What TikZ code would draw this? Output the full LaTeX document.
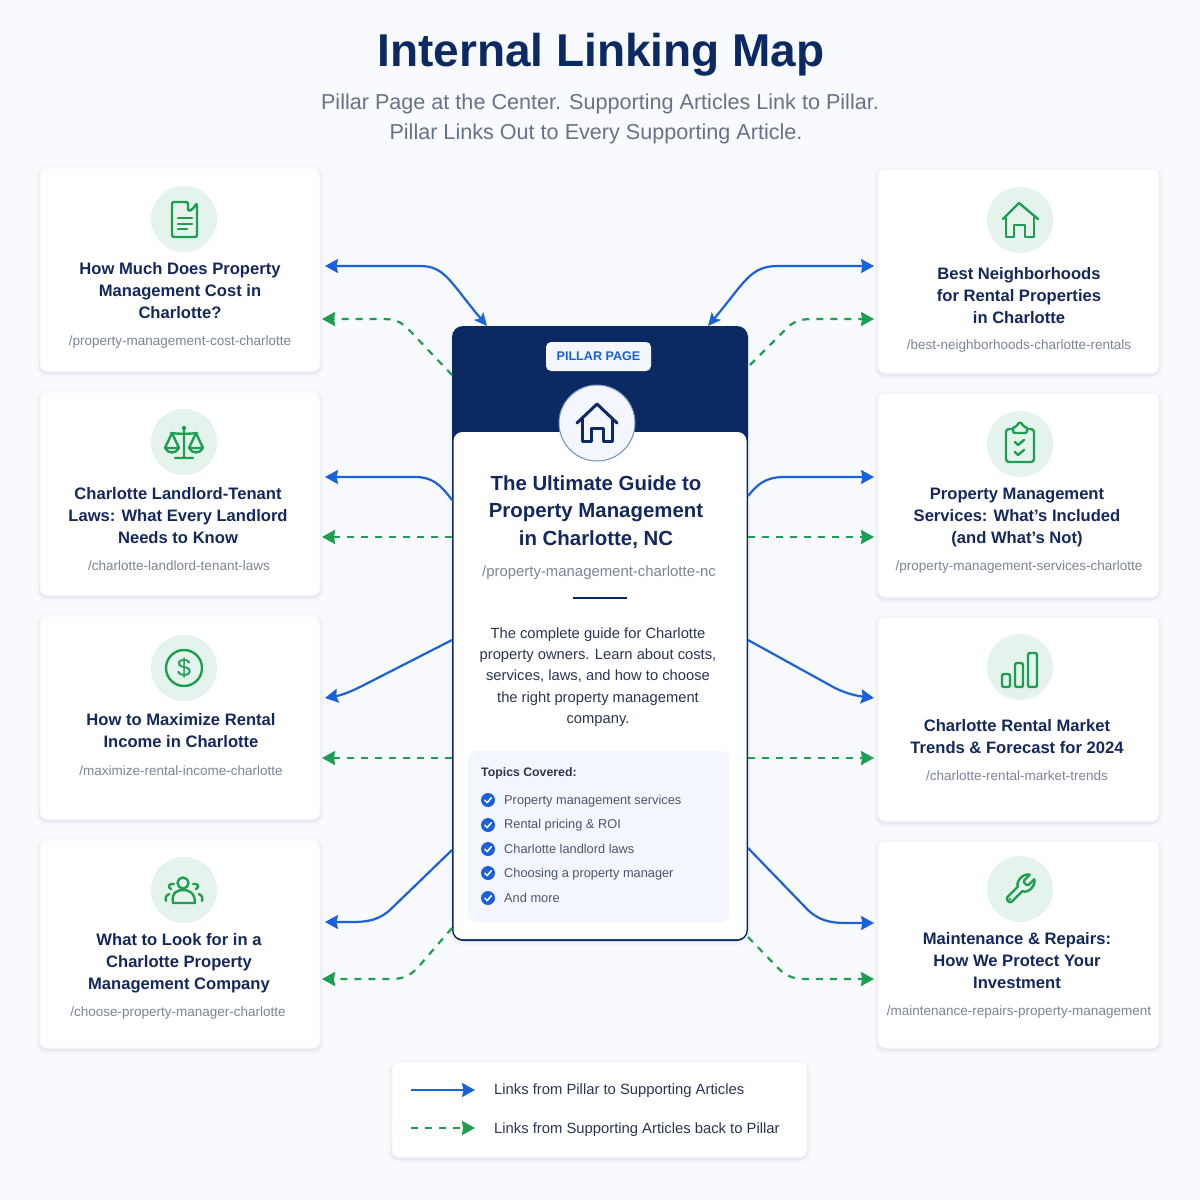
\documentclass[tikz,border=0pt]{standalone}
\usepackage{fontspec}
\setmainfont{Liberation Sans}
\usetikzlibrary{arrows.meta,calc}
\definecolor{bgc}{HTML}{F8FAFD}
\definecolor{navy}{HTML}{0B2A63}
\definecolor{titlec}{HTML}{14285E}
\definecolor{subc}{HTML}{667388}
\definecolor{urlc}{HTML}{7C8594}
\definecolor{bluec}{HTML}{1A62DB}
\definecolor{greenc}{HTML}{1E9E50}
\definecolor{mint}{HTML}{E4F4EC}
\definecolor{panel}{HTML}{F3F7FD}
\definecolor{bodyc}{HTML}{2A3550}
\definecolor{itemc}{HTML}{4A5570}
\tikzset{
  x=1pt,y=-1pt,
  softbox/.style={draw=black!4,line width=.6pt,fill=white,rounded corners=7pt,inner sep=0pt,outer sep=0pt,
    preaction={draw=navy,draw opacity=.012,line width=9pt,transform canvas={yshift=-2pt}},
    preaction={draw=navy,draw opacity=.02,line width=5pt,transform canvas={yshift=-2pt}},
    preaction={draw=navy,draw opacity=.035,line width=2pt,transform canvas={yshift=-2pt}}},
  cardtitle/.style={align=center,inner sep=0pt,text=titlec,font=\fontsize{16.6}{22}\selectfont\bfseries},
  cardurl/.style={inner sep=0pt,text=urlc,font=\fontsize{13.5}{15}\selectfont},
  iconbg/.style={fill=mint,draw=none},
  iconline/.style={draw=greenc,line width=2.4pt,line join=round,line cap=round},
  bluelink/.style={draw=bluec,line width=2.2pt,-{Stealth[length=13pt,width=14pt,inset=1.5pt]}},
  bothlink/.style={draw=bluec,line width=2.2pt,{Stealth[length=13pt,width=14pt,inset=1.5pt]}-{Stealth[length=13pt,width=12pt,inset=3pt]}},
  greenlink/.style={draw=greenc,line width=2.2pt,dash pattern=on 7pt off 7pt,-{Stealth[length=13pt,width=14pt,inset=1pt]}},
  itemtext/.style={anchor=west,inner sep=0pt,text=itemc,font=\fontsize{12.8}{15}\selectfont},
  legendtext/.style={anchor=west,inner sep=0pt,text=bodyc,font=\fontsize{14.8}{17}\selectfont},
}
\newcommand{\boxat}[6][softbox]{\node[#1,minimum width={(#5-#3)*1pt},minimum height={(#6-#4)*1pt}] (#2) at ({(#3+#5)/2},{(#4+#6)/2}) {};}
\newcommand{\tickat}[2]{\fill[bluec] (#1,#2) circle (7);\draw[white,line width=1.5pt,line cap=round,line join=round] (#1-3.2,#2+.2) -- (#1-.8,#2+2.6) -- (#1+3.4,#2-2.4);}
\begin{document}
\begin{tikzpicture}
\useasboundingbox (0,0) rectangle (1200,1200);
\fill[bgc] (0,0) rectangle (1200,1200);

% headings
\node[inner sep=0pt,text=navy,font=\fontsize{46}{50}\selectfont\bfseries] (maintitle) at (601,55) {Internal Linking Map};
\node[inner sep=0pt,align=center,text=subc,font=\fontsize{21.6}{29.2}\selectfont] (subtitle) at (600,119) {Pillar Page at the Center. Supporting Articles Link to Pillar.\\Pillar Links Out to Every Supporting Article.\kern8pt\mbox{}};

% cards
\boxat{c1}{40}{168}{320}{371}
\boxat{c2}{40}{392}{320}{595}
\boxat{c3}{40}{616}{320}{819}
\boxat{c4}{40}{840}{320}{1048}
\boxat{d1}{878}{169}{1159}{373}
\boxat{d2}{878}{393}{1159}{597}
\boxat{d3}{878}{617}{1159}{821}
\boxat{d4}{878}{841}{1159}{1048}

% icon discs
\foreach \n/\x/\y in {i1/184/219,i2/184/442,i3/184/668,i4/184/890,j1/1020/220,j2/1020/444,j3/1020/667,j4/1020/889}
  \fill[iconbg] (\x,\y) circle (33);

% document icon
\begin{scope}[shift={(184,219)},iconline]
\draw[rounded corners=2pt] (-12,-17) -- (4,-17) -- (4,-8) -- (8,-9) -- (13,-16) -- (13,18) -- (-12,18) -- cycle;
\draw (-6,-1) -- (8,-1) (-6,5) -- (8,5) (-6,10) -- (3,10);
\end{scope}
% scales icon
\begin{scope}[shift={(184,442)},iconline]
\draw (0,-14) -- (0,15) (-9,16) -- (9,16) (-13,-9) .. controls (-6,-8) and (6,-8) .. (13,-9);
\fill[greenc] (0,-14) circle (2.2);
\draw (-12,-9) -- (-19,6) .. controls (-16,12) and (-8,12) .. (-5,6) -- cycle (-19,6) -- (-5,6);
\draw (12,-9) -- (19,6) .. controls (16,12) and (8,12) .. (5,6) -- cycle (19,6) -- (5,6);
\end{scope}
% dollar icon
\begin{scope}[shift={(184,668)},iconline]
\draw[line width=2.4pt] (0,0) circle (18);
\node[inner sep=0pt,text=greenc,font=\fontsize{25}{25}\selectfont] (dollar) at (0,0) {\$};
\end{scope}
% people icon
\begin{scope}[shift={(184,890)},iconline]
\draw (-1,-7) circle (5.5);
\draw (-11,13) .. controls (-13,2) and (-6,0) .. (-1,0) .. controls (4,0) and (11,2) .. (11,13) -- cycle;
\draw (-10,-6) .. controls (-15,-7) and (-17,-3) .. (-13,-1);
\draw (9,-6) .. controls (14,-7) and (16,-3) .. (12,-1);
\draw (-15,4) .. controls (-19,6) and (-19,9) .. (-18,11);
\draw (15,4) .. controls (19,6) and (19,9) .. (18,11);
\end{scope}
% house icon
\begin{scope}[shift={(1020,220)},iconline]
\draw (-17,-1) -- (-1,-17) -- (18,-1);
\draw (-14,-4) -- (-14,17) -- (-6,17) -- (-6,5) -- (5,5) -- (5,17) -- (14,17) -- (14,-4);
\end{scope}
% clipboard icon
\begin{scope}[shift={(1020,444)},iconline]
\draw[rounded corners=3pt] (-7,-15) -- (-14,-15) -- (-14,18) -- (14,18) -- (14,-15) -- (7,-15);
\draw[rounded corners=2pt] (-7,-17) -- (-3,-17) .. controls (-2,-22) and (2,-22) .. (3,-17) -- (7,-17) -- (7,-11) -- (-7,-11) -- cycle;
\draw (-5,-2) -- (-2,1) -- (4,-4) (-5,8) -- (-2,11) -- (4,6);
\end{scope}
% bars icon
\begin{scope}[shift={(1020,667)},iconline]
\draw[rounded corners=2pt] (-18,7) rectangle (-10,20) (-5,-4) rectangle (3,20) (8,-14) rectangle (17,20);
\end{scope}
% wrench icon
\begin{scope}[shift={(1002,871)},scale=1.5,iconline]
\draw (14.7,6.3) .. controls (14.3,6.7) and (14.3,7.3) .. (14.7,7.7) -- (16.3,9.3) .. controls (16.7,9.7) and (17.3,9.7) .. (17.7,9.3) -- (21.47,5.53) .. controls (22.8,9) and (18,15.2) .. (13.53,13.47) -- (6.62,20.38) .. controls (5.5,22) and (2,19) .. (3.62,17.38) -- (10.53,10.47) .. controls (9,7) and (14.5,1) .. (18.47,2.53) -- cycle;
\fill[greenc] (5.3,18.7) circle (.9);
\end{scope}

% card texts
\node[cardtitle] (t1) at (180,291) {How Much Does Property\\Management Cost in\\Charlotte?};
\node[cardurl] (u1) at (180,342) {/property-management-cost-charlotte};
\node[cardtitle] (t2) at (178,516) {Charlotte Landlord-Tenant\\Laws: What Every Landlord\\Needs to Know};
\node[cardurl] (u2) at (179,566) {/charlotte-landlord-tenant-laws};
\node[cardtitle] (t3) at (181,731) {How to Maximize Rental\\Income in Charlotte};
\node[cardurl] (u3) at (181,771) {/maximize-rental-income-charlotte};
\node[cardtitle] (t4) at (179,963) {What to Look for in a\\Charlotte Property\\Management Company};
\node[cardurl] (u4) at (178,1013) {/choose-property-manager-charlotte};
\node[cardtitle] (s1) at (1019,296) {Best Neighborhoods\\for Rental Properties\\in Charlotte};
\node[cardurl] (v1) at (1019,346) {/best-neighborhoods-charlotte-rentals};
\node[cardtitle] (s2) at (1017,518) {Property Management\\Services: What's Included\\(and What's Not)};
\node[cardurl] (v2) at (1019,567) {/property-management-services-charlotte};
\node[cardtitle] (s3) at (1017,737) {Charlotte Rental Market\\Trends \& Forecast for 2024};
\node[cardurl] (v3) at (1017,776) {/charlotte-rental-market-trends};
\node[cardtitle] (s4) at (1017,961) {Maintenance \& Repairs:\\How We Protect Your\\Investment};
\node[cardurl] (v4) at (1019,1012) {/maintenance-repairs-property-management};

% pillar
\boxat[fill=navy,rounded corners=11pt,inner sep=0pt,outer sep=0pt,preaction={draw=navy,draw opacity=.03,line width=5pt,transform canvas={yshift=-2pt}}]{pillar}{452}{326}{748}{941}
\boxat[fill=white,rounded corners=9pt,inner sep=0pt,outer sep=0pt]{pillarbody}{453.5}{432}{746.5}{939}
\node[fill=panel,rounded corners=5pt,minimum width=105pt,minimum height=29pt,inner sep=0pt,text=bluec,font=\fontsize{12.6}{15}\selectfont\bfseries] (badge) at (598.5,356.5) {PILLAR PAGE};
\node[circle,fill=panel,draw=navy!55!bluec!60,line width=1pt,minimum size=76pt,inner sep=0pt] (hub) at (597,423) {};
\begin{scope}[shift={(597,423)}]
\draw[navy,line width=3pt,line join=round,line cap=round] (-20,0) -- (0,-19) -- (20,0);
\draw[navy,line width=3pt,line join=round,line cap=round] (-15,-4) -- (-15,18) -- (-6,18) -- (-6,5) -- (6,5) -- (6,18) -- (15,18) -- (15,-4);
\end{scope}
\node[inner sep=0pt,align=center,text=titlec,font=\fontsize{20.4}{27.2}\selectfont\bfseries] (ptitle) at (596,512) {The Ultimate Guide to\\Property Management\\in Charlotte, NC};
\node[inner sep=0pt,text=urlc,font=\fontsize{14.9}{17}\selectfont] (purl) at (599,572.5) {/property-management-charlotte-nc};
\draw[navy,line width=2.4pt] (573,598) -- (627,598);
\node[inner sep=0pt,align=center,text=bodyc,font=\fontsize{14.75}{21.4}\selectfont] (pdesc) at (598,677) {The complete guide for Charlotte\\property owners. Learn about costs,\\services, laws, and how to choose\\the right property management\\company.};
\boxat[fill=panel,rounded corners=7pt,inner sep=0pt,outer sep=0pt]{topics}{468}{751}{729}{922}
\node[anchor=west,inner sep=0pt,text=bodyc,font=\fontsize{12.3}{15}\selectfont\bfseries] (thead) at (481,773) {Topics Covered:};
\tickat{488}{800}\node[itemtext] (it1) at (504,801) {Property management services};
\tickat{488}{825}\node[itemtext] (it2) at (504,825) {Rental pricing \& ROI};
\tickat{488}{849}\node[itemtext] (it3) at (504,849) {Charlotte landlord laws};
\tickat{488}{873}\node[itemtext] (it4) at (504,874) {Choosing a property manager};
\tickat{488}{898}\node[itemtext] (it5) at (504,898) {And more};

% connector ends
\foreach \n/\y in {a1/266,a2/477,a3/698,a4/922}
  \coordinate (\n) at (325,\y);
\foreach \n/\y in {g1/319,g2/537,g3/758,g4/979}
  \coordinate (\n) at (322,\y);
\foreach \n/\y in {b1/266,b2/477,b3/698,b4/923}
  \coordinate (\n) at (874,\y);
\foreach \n/\y in {h1/319,h2/537,h3/758,h4/979}
  \coordinate (\n) at (874,\y);
\coordinate (pa1) at (487,326); \coordinate (pa2) at (452,500); \coordinate (pa3) at (452,640); \coordinate (pa4) at (452,850);
\coordinate (pg1) at (452,375); \coordinate (pg2) at (452,537); \coordinate (pg3) at (452,758); \coordinate (pg4) at (452,928);
\coordinate (pb1) at (708,326); \coordinate (pb2) at (748,496); \coordinate (pb3) at (748,640); \coordinate (pb4) at (748,848);
\coordinate (ph1) at (750,365); \coordinate (ph2) at (748,537); \coordinate (ph3) at (748,758); \coordinate (ph4) at (748,937);

% blue connectors
\draw[bothlink] (a1) -- (420,266) .. controls (445,266) and (450,282) .. (pa1);
\draw[bluelink] (pa2) .. controls (440,484) and (432,477) .. (415,477) -- (a2);
\draw[bluelink] (pa3) -- (362,686) .. controls (350,692) and (342,695) .. (a3);
\draw[bluelink] (pa4) -- (392,908) .. controls (380,920) and (368,922) .. (352,922) -- (a4);
\draw[bothlink] (b1) -- (778,266) .. controls (750,266) and (745,282) .. (pb1);
\draw[bluelink] (pb2) .. controls (758,484) and (765,477) .. (785,477) -- (b2);
\draw[bluelink] (pb3) -- (835,688) .. controls (847,694) and (858,696) .. (b3);
\draw[bluelink] (pb4) -- (805,907) .. controls (818,921) and (830,923) .. (848,923) -- (b4);

% green connectors
\draw[greenlink] (pg1) -- (412,333) .. controls (400,320) and (395,319) .. (380,319) -- (g1);
\draw[greenlink] (pg2) -- (g2);
\draw[greenlink] (pg3) -- (g3);
\draw[greenlink] (pg4) -- (420,965) .. controls (410,977) and (402,979) .. (390,979) -- (g4);
\draw[greenlink] (ph1) -- (788,327) .. controls (796,320) and (802,319) .. (815,319) -- (h1);
\draw[greenlink] (ph2) -- (h2);
\draw[greenlink] (ph3) -- (h3);
\draw[greenlink] (ph4) -- (778,968) .. controls (788,978) and (796,979) .. (808,979) -- (h4);

% legend
\boxat{legend}{392}{1062}{807}{1157}
\coordinate (la) at (411,1090); \coordinate (lb) at (475,1090);
\coordinate (lc) at (411,1128); \coordinate (ld) at (475,1128);
\draw[bluelink] (la) -- (lb);
\draw[greenlink] (lc) -- (ld);
\node[legendtext] (l1) at (494,1090.5) {Links from Pillar to Supporting Articles};
\node[legendtext] (l2) at (494,1129.5) {Links from Supporting Articles back to Pillar};
\end{tikzpicture}
\end{document}
